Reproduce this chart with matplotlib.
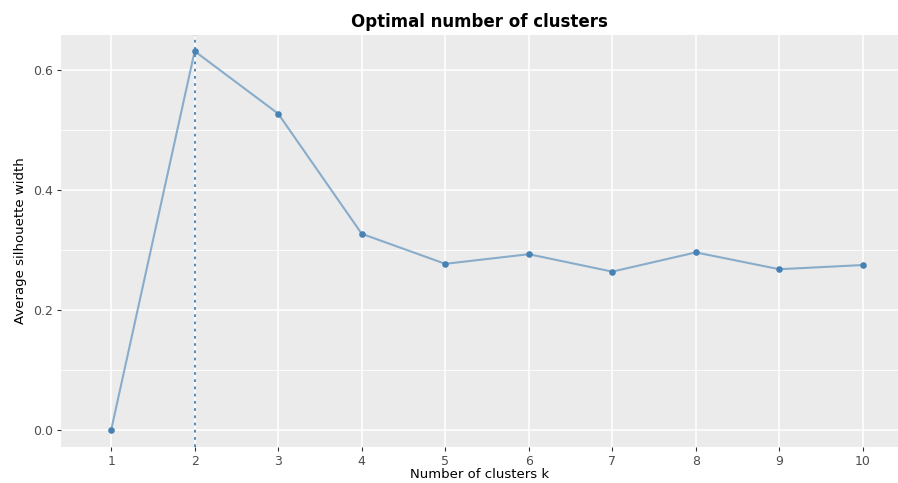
import matplotlib
matplotlib.use("Agg")
import matplotlib.pyplot as plt

k = [1, 2, 3, 4, 5, 6, 7, 8, 9, 10]
silhouette = [0.0, 0.631, 0.527, 0.327, 0.277, 0.293, 0.264, 0.296, 0.268, 0.275]
optimal_k = 2
yticks = [0.0, 0.2, 0.4, 0.6]
yticklabels = ["0.0", "0.2", "0.4", "0.6"]
minor_y = [0.1, 0.3, 0.5]

fig = plt.figure(figsize=(8.98, 4.83), dpi=100)
ax = fig.add_axes([61/898, 1 - 447/483, 1 - 61/898, (447 - 35)/483])
ax.set_facecolor("#EBEBEB")
for s in ax.spines.values():
    s.set_visible(False)

ax.set_xlim(0.4, 10.42)
ax.set_ylim(-0.028, 0.658)
ax.set_xticks(k)
ax.set_xticklabels([str(v) for v in k])
ax.set_yticks(yticks)
ax.set_yticklabels(yticklabels)
ax.set_yticks(minor_y, minor=True)
ax.grid(True, which="major", color="white", linewidth=1.1)
ax.grid(True, which="minor", axis="y", color="white", linewidth=0.6)
ax.set_axisbelow(True)
ax.tick_params(axis="both", which="major", colors="#333333", labelcolor="#4D4D4D",
               labelsize=9, length=3, width=0.8, pad=3)
ax.tick_params(axis="both", which="minor", length=0)

ax.plot(k, silhouette, color="#4682B4", alpha=0.6, linewidth=1.5, zorder=3)
ax.scatter(k, silhouette, color="#4682B4", s=14, zorder=4)
ax.axvline(optimal_k, color="#4682B4", linestyle=(0, (1.5, 2.5)), linewidth=1.3, zorder=2)

ax.set_title("Optimal number of clusters", fontsize=12, fontweight="bold", pad=6)
ax.set_xlabel("Number of clusters k", fontsize=9.5, labelpad=0)
ax.set_ylabel("Average silhouette width", fontsize=9.5, labelpad=4)

fig.savefig("out.png", dpi=100)
